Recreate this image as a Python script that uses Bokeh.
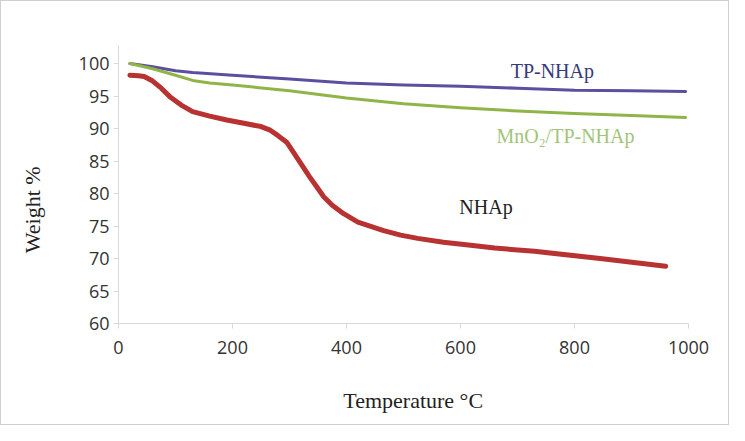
from bokeh.plotting import figure
from bokeh.models import Label, Range1d, FixedTicker
from bokeh.embed import file_html
from bokeh.resources import INLINE
import math

# Data
temp_tp = [20, 60, 100, 130, 200, 300, 400, 500, 600, 700, 800, 900, 995]
weight_tp = [100.0, 99.5, 98.9, 98.6, 98.2, 97.6, 97.0, 96.7, 96.5, 96.2, 95.9, 95.8, 95.7]

temp_mn = [20, 60, 100, 130, 160, 200, 300, 400, 500, 600, 700, 800, 900, 995]
weight_mn = [100.0, 99.2, 98.2, 97.4, 97.0, 96.7, 95.8, 94.7, 93.8, 93.2, 92.7, 92.3, 92.0, 91.7]

temp_nh = [20, 35, 45, 60, 75, 90, 110, 130, 160, 190, 220, 250, 265, 280, 295, 305, 320,
           335, 348, 360, 375, 395, 420, 465, 495, 525, 570, 610, 660, 730, 845, 960]
weight_nh = [98.2, 98.1, 98.0, 97.3, 96.2, 94.9, 93.6, 92.6, 91.9, 91.3, 90.8, 90.3, 89.8, 88.9,
             87.9, 86.6, 84.6, 82.6, 81.0, 79.5, 78.2, 76.9, 75.6, 74.3, 73.6, 73.1, 72.5, 72.1,
             71.6, 71.1, 70.0, 68.8]

x_ticks = [0, 200, 400, 600, 800, 1000]
y_ticks = [60, 65, 70, 75, 80, 85, 90, 95, 100]
x_min, x_max = 0, 1000
y_min, y_max = 60, 102.8

# Frame spans the whole canvas; axes are drawn at fixed locations inside it
W, H = 729, 425
left_px, bottom_px = 117, 103
sx = 570 / (x_max - x_min)          # px per degree
sy = 6.5                            # px per weight %
x_range = Range1d(x_min - left_px / sx, x_min + (W - left_px) / sx)
y_range = Range1d(y_min - bottom_px / sy, y_min + (H - bottom_px) / sy)

p = figure(width=W, height=H, output_backend="svg", toolbar_location=None,
           x_range=x_range, y_range=y_range,
           min_border_left=0, min_border_right=0, min_border_top=0, min_border_bottom=0)
p.styles = {"border": "1px solid #cfcfcf"}
p.outline_line_color = None
p.xgrid.visible = False
p.ygrid.visible = False
p.background_fill_color = "white"
p.border_fill_color = "white"

p.xaxis[0].fixed_location = y_min
p.yaxis[0].fixed_location = x_min
p.xaxis[0].bounds = (x_min, x_max)
p.yaxis[0].bounds = (y_min, y_max)

for ax in (p.xaxis[0], p.yaxis[0]):
    ax.axis_line_color = "#d9d9d9"
    ax.axis_line_width = 1
    ax.major_tick_line_color = "#d9d9d9"
    ax.major_tick_in = 0
    ax.major_tick_out = 5
    ax.minor_tick_line_color = None
    ax.major_label_text_font = "Open Sans"
    ax.major_label_text_font_size = "18px"
    ax.major_label_text_color = "#333333"

p.xaxis[0].ticker = FixedTicker(ticks=x_ticks)
p.yaxis[0].ticker = FixedTicker(ticks=y_ticks)
p.xaxis[0].major_label_standoff = 12
p.yaxis[0].major_label_standoff = 4

p.line(temp_tp, weight_tp, line_color="#5b4f9f", line_width=3, line_join="round", line_cap="round")
p.line(temp_mn, weight_mn, line_color="#8fb548", line_width=3, line_join="round", line_cap="round")
p.line(temp_nh, weight_nh, line_color="#b83232", line_width=5, line_join="round", line_cap="round")

serif = "Liberation Serif"
p.add_layout(Label(x=688, y=98.9, text="TP-NHAp", text_font=serif, text_font_size="20px",
                   text_color="#363a7a", text_baseline="middle", text_align="left"))
p.add_layout(Label(x=663, y=88.8, text="MnO₂/TP-NHAp", text_font=serif, text_font_size="20px",
                   text_color="#a2c57a", text_baseline="middle", text_align="left"))
p.add_layout(Label(x=598, y=78.0, text="NHAp", text_font=serif, text_font_size="20px",
                   text_color="#222222", text_baseline="middle", text_align="left"))
p.add_layout(Label(x=517, y=48.2, text="Temperature °C", text_font=serif, text_font_size="22px",
                   text_color="#222222", text_baseline="middle", text_align="center"))
p.add_layout(Label(x=-151, y=77.5, text="Weight %", text_font=serif, text_font_size="22px",
                   text_color="#222222", text_baseline="middle", text_align="center",
                   angle=math.pi / 2))

open("out.html", "w").write(file_html(p, INLINE))
